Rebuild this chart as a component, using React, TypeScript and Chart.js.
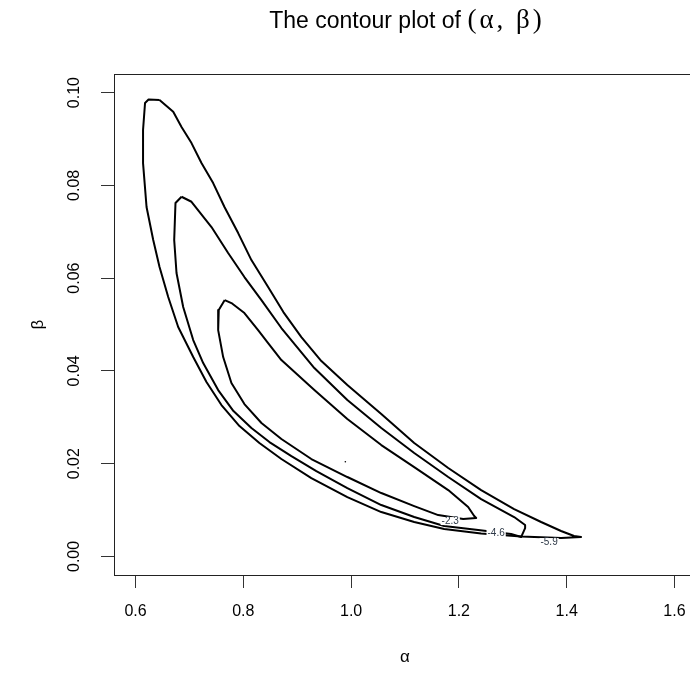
import { useEffect, useRef } from "react";
import { Chart, registerables } from "chart.js";

Chart.register(...registerables);

// Outer contour (level -5.9)
const outerAlpha = [0.6445, 0.6241, 0.6176, 0.6139, 0.6139, 0.6204, 0.6328, 0.6445, 0.6606, 0.6791, 0.707, 0.7316, 0.7594, 0.7928, 0.8298, 0.8706, 0.9262, 0.993, 1.056, 1.1171, 1.1727, 1.2413, 1.3155, 1.3896, 1.4267, 1.4137, 1.3896, 1.3526, 1.3025, 1.2413, 1.1802, 1.1171, 1.056, 0.993, 0.9448, 0.9077, 0.8743, 0.846, 0.815, 0.7904, 0.765, 0.744, 0.7223, 0.7038, 0.6853, 0.6699];
const outerBeta = [0.09838, 0.09849, 0.09774, 0.09192, 0.0848, 0.07532, 0.06821, 0.06238, 0.05592, 0.04945, 0.04298, 0.03759, 0.03264, 0.02811, 0.02445, 0.021, 0.0169, 0.0128, 0.00957, 0.00742, 0.00591, 0.00494, 0.00429, 0.00397, 0.00418, 0.0044, 0.00548, 0.00742, 0.01022, 0.01431, 0.01906, 0.02445, 0.0307, 0.03695, 0.04212, 0.04729, 0.05268, 0.05807, 0.06389, 0.06971, 0.07532, 0.08049, 0.0848, 0.08911, 0.09256, 0.09586];

// Middle contour (level -4.6)
const middleAlpha = [0.6853, 0.6741, 0.6717, 0.676, 0.6884, 0.707, 0.7255, 0.7533, 0.7817, 0.815, 0.8484, 0.8892, 0.9355, 0.993, 1.056, 1.1171, 1.1727, 1.2358, 1.2969, 1.3155, 1.3229, 1.3229, 1.3025, 1.2413, 1.1802, 1.1171, 1.056, 0.993, 0.9318, 0.8706, 0.8336, 0.802, 0.7718, 0.7409, 0.7038];
const middleBeta = [0.07754, 0.07618, 0.06821, 0.06109, 0.05376, 0.04665, 0.04169, 0.03587, 0.03134, 0.02768, 0.02466, 0.02164, 0.01841, 0.01474, 0.01108, 0.00849, 0.00655, 0.00569, 0.00483, 0.00418, 0.00612, 0.00677, 0.00849, 0.01237, 0.01712, 0.02229, 0.02768, 0.03371, 0.04061, 0.04924, 0.05527, 0.06023, 0.0654, 0.07101, 0.07646];

// Inner contour (level -2.3)
const innerAlpha = [0.7655, 0.7544, 0.7533, 0.7626, 0.7779, 0.802, 0.8336, 0.8706, 0.9262, 0.993, 1.056, 1.1171, 1.1616, 1.208, 1.2321, 1.2284, 1.2172, 1.1802, 1.1171, 1.056, 0.993, 0.9318, 0.8706, 0.846, 0.8274, 0.802, 0.7779];
const innerBeta = [0.05527, 0.05312, 0.0488, 0.04298, 0.03738, 0.03285, 0.02876, 0.02531, 0.021, 0.01712, 0.01367, 0.01086, 0.00892, 0.00806, 0.00828, 0.00871, 0.01065, 0.01431, 0.01927, 0.02401, 0.02962, 0.03587, 0.04234, 0.046, 0.0488, 0.05247, 0.05462];

// Contour labels
const contourLevels = ["-5.9", "-4.6", "-2.3"];
const labelAlpha = [1.3674, 1.2691, 1.1839];
const labelBeta = [0.0031, 0.00504, 0.00763];

// Maximum likelihood point
const mleAlpha = [0.9893];
const mleBeta = [0.02041];

// Axes
const xTicks = [0.6, 0.8, 1.0, 1.2, 1.4, 1.6];
const xTickLabels = ["0.6", "0.8", "1.0", "1.2", "1.4", "1.6"];
const yTicks = [0.0, 0.02, 0.04, 0.06, 0.08, 0.1];
const yTickLabels = ["0.00", "0.02", "0.04", "0.06", "0.08", "0.10"];
const xRange = [0.56, 1.64];
const yRange = [-0.004, 0.104];

const titleMain = "The contour plot of ";
const titleMath = "(\u03b1, \u03b2)";
const xTitle = "\u03b1";
const yTitle = "\u03b2";

const FONT = '"Liberation Sans", Arial, Helvetica, sans-serif';
const SERIF = '"Liberation Serif", "DejaVu Serif", serif';

function closed(xs: number[], ys: number[]) {
  const pts = xs.map((x, i) => ({ x, y: ys[i] }));
  pts.push({ x: xs[0], y: ys[0] });
  return pts;
}

const rPlugin = {
  id: "rStyle",
  afterDatasetsDraw(chart: any) {
    const { ctx, chartArea: a, scales } = chart;
    ctx.save();
    ctx.font = `10px ${FONT}`;
    ctx.textAlign = "center";
    ctx.textBaseline = "middle";
    contourLevels.forEach((t, i) => {
      const x = scales.x.getPixelForValue(labelAlpha[i]);
      const y = scales.y.getPixelForValue(labelBeta[i]);
      const w = ctx.measureText(t).width;
      ctx.fillStyle = "#ffffff";
      ctx.fillRect(x - w / 2 - 1, y - 4, w + 2, 8);
      ctx.fillStyle = "#2f3a48";
      ctx.fillText(t, x, y);
    });
    ctx.strokeStyle = "#222";
    ctx.lineWidth = 1;
    ctx.strokeRect(
      Math.round(a.left) + 0.5,
      Math.round(a.top) + 0.5,
      Math.round(a.right - a.left),
      Math.round(a.bottom - a.top)
    );

    // Title: sans text followed by the math part in a serif face
    const cx = (a.left + a.right) / 2 + 2;
    ctx.textAlign = "left";
    ctx.textBaseline = "alphabetic";
    ctx.fillStyle = "#000";
    ctx.font = `23px ${FONT}`;
    const wA = ctx.measureText(titleMain).width;
    ctx.font = `27px ${SERIF}`;
    (ctx as any).letterSpacing = "3px";
    const wB = ctx.measureText(titleMath).width;
    const x0 = cx - (wA + wB) / 2;
    (ctx as any).letterSpacing = "0px";
    ctx.font = `23px ${FONT}`;
    ctx.fillText(titleMain, x0, 28);
    ctx.font = `27px ${SERIF}`;
    (ctx as any).letterSpacing = "3px";
    ctx.fillText(titleMath, x0 + wA, 28);
    (ctx as any).letterSpacing = "0px";
    ctx.restore();
  },
};

export default function App() {
  const ref = useRef<HTMLCanvasElement | null>(null);

  useEffect(() => {
    if (!ref.current) return;
    const lineStyle = {
      showLine: true,
      borderColor: "#000",
      borderWidth: 2,
      pointRadius: 0,
      tension: 0,
      fill: false,
      borderJoinStyle: "round" as const,
    };
    const chart = new Chart(ref.current, {
      type: "scatter",
      data: {
        datasets: [
          { label: contourLevels[0], data: closed(outerAlpha, outerBeta), ...lineStyle },
          { label: contourLevels[1], data: closed(middleAlpha, middleBeta), ...lineStyle },
          { label: contourLevels[2], data: closed(innerAlpha, innerBeta), ...lineStyle },
          {
            label: "MLE",
            data: mleAlpha.map((x, i) => ({ x, y: mleBeta[i] })),
            showLine: false,
            pointRadius: 0.8,
            pointBackgroundColor: "#000",
            pointBorderWidth: 0,
          },
        ],
      },
      options: {
        animation: false,
        responsive: false,
        devicePixelRatio: 1,
        layout: { padding: { left: 0, top: 74, right: 3, bottom: 0 } },
        plugins: {
          legend: { display: false },
          tooltip: { enabled: false },
          title: { display: false },
        },
        scales: {
          x: {
            type: "linear",
            min: xRange[0],
            max: xRange[1],
            afterBuildTicks: (s: any) => {
              s.ticks = xTicks.map((v) => ({ value: v }));
            },
            afterFit: (s: any) => {
              s.height = 106;
            },
            ticks: {
              autoSkip: false,
              maxRotation: 0,
              minRotation: 0,
              padding: 14,
              color: "#000",
              font: { family: FONT, size: 16 },
              callback: (_v: any, i: number) => xTickLabels[i],
            },
            grid: {
              display: true,
              drawOnChartArea: false,
              drawTicks: true,
              tickLength: 13,
              color: "#333",
              lineWidth: 1,
            },
            border: { display: false },
            title: {
              display: true,
              text: xTitle,
              color: "#000",
              font: { family: FONT, size: 17 },
              padding: { top: 0, bottom: 13 },
            },
          },
          y: {
            type: "linear",
            min: yRange[0],
            max: yRange[1],
            afterBuildTicks: (s: any) => {
              s.ticks = yTicks.map((v) => ({ value: v }));
            },
            afterFit: (s: any) => {
              s.width = 114;
            },
            ticks: {
              autoSkip: false,
              minRotation: 90,
              maxRotation: 90,
              crossAlign: "center",
              padding: 11,
              color: "#000",
              font: { family: FONT, size: 16 },
              callback: (_v: any, i: number) => yTickLabels[i],
            },
            grid: {
              display: true,
              drawOnChartArea: false,
              drawTicks: true,
              tickLength: 13,
              color: "#333",
              lineWidth: 1,
            },
            border: { display: false },
            title: {
              display: true,
              text: yTitle,
              color: "#000",
              font: { family: FONT, size: 17 },
              padding: { top: 28, bottom: 0 },
            },
          },
        },
      },
      plugins: [rPlugin],
    });
    return () => chart.destroy();
  }, []);

  return (
    <div
      style={{
        position: "fixed",
        left: 0,
        top: 0,
        width: 690,
        height: 681,
        overflow: "hidden",
        background: "#fff",
      }}
    >
      <canvas ref={ref} width={700} height={681} style={{ display: "block" }} />
    </div>
  );
}
